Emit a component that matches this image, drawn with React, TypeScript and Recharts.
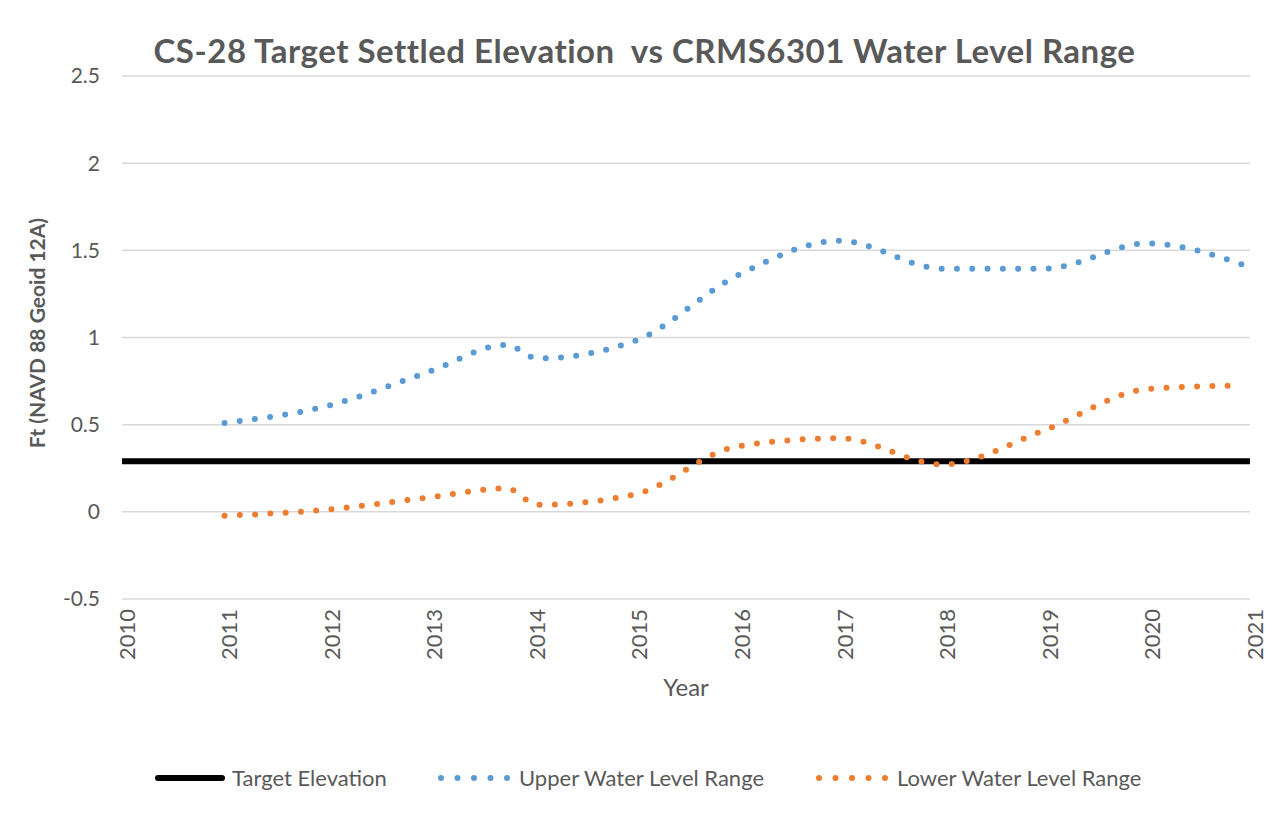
import React from "react";
import { LineChart, Line, XAxis, YAxis, CartesianGrid, Label } from "recharts";

const titleText = "CS-28 Target Settled Elevation  vs CRMS6301 Water Level Range";
const yAxisTitle = "Ft (NAVD 88 Geoid 12A)";
const xAxisTitle = "Year";

const xTicks = [2010, 2011, 2012, 2013, 2014, 2015, 2016, 2017, 2018, 2019, 2020, 2021];
const yTicks = [-0.5, 0, 0.5, 1, 1.5, 2, 2.5];

const targetYears = [2010, 2021];
const targetValues = [0.29, 0.29];

const rangeYears = [2011, 2012, 2013, 2013.75, 2014.05, 2015, 2016, 2017, 2018, 2019, 2020, 2020.92];
const upperValues = [0.51, 0.607, 0.805, 0.958, 0.88, 0.98, 1.355, 1.555, 1.395, 1.395, 1.54, 1.42];
const lowerValues = [-0.023, 0.013, 0.083, 0.135, 0.04, 0.1, 0.375, 0.422, 0.272, 0.47, 0.704, 0.725];

const seriesNames = ["Target Elevation", "Upper Water Level Range", "Lower Water Level Range"];
const colors = ["#000000", "#5b9bd5", "#ed7d31"];

const toRows = (xs: number[], vs: number[]) => xs.map((x, i) => ({ x, v: vs[i] }));
const targetData = toRows(targetYears, targetValues);
const upperData = toRows(rangeYears, upperValues);
const lowerData = toRows(rangeYears, lowerValues);

const FONT = "Lato, 'Open Sans', sans-serif";
const GRAY = "#595959";

const XTick = (props: any) => {
  const { x, y, payload } = props;
  return (
    <g transform={`translate(${x + 5},${y + 2}) rotate(-90)`}>
      <text x={0} y={0} dy="0.35em" textAnchor="end" fill={GRAY} fontSize={22} fontFamily={FONT}>
        {payload.value}
      </text>
    </g>
  );
};

const YTick = (props: any) => {
  const { x, y, payload } = props;
  return (
    <text x={x - 14} y={y} dy="0.35em" textAnchor="end" fill={GRAY} fontSize={21} fontFamily={FONT}>
      {payload.value}
    </text>
  );
};

const LegendItem = ({ i, left, textLeft }: { i: number; left: number; textLeft: number }) => (
  <>
    <svg style={{ position: "absolute", left, top: 760, overflow: "visible" }} width={72} height={20}>
      {i === 0 ? (
        <line x1={3} y1={10} x2={67} y2={10} stroke={colors[i]} strokeWidth={6} strokeLinecap="round" />
      ) : (
        <line x1={3} y1={10} x2={70} y2={10} stroke={colors[i]} strokeWidth={6} strokeLinecap="round" strokeDasharray="0 16.5" />
      )}
    </svg>
    <div
      style={{
        position: "absolute",
        left: textLeft,
        top: 756,
        fontFamily: FONT,
        fontSize: 22,
        color: GRAY,
        lineHeight: "28px",
        whiteSpace: "nowrap",
      }}
    >
      {seriesNames[i]}
    </div>
  </>
);

export default function App() {
  return (
    <div
      style={{
        marginLeft: -2,
        marginTop: -2,
        width: 1275,
        height: 810,
        borderLeft: "2px solid #000",
        borderTop: "2px solid #000",
        position: "relative",
        overflow: "hidden",
        background: "#fff",
      }}
    >
      <div
        style={{
          position: "absolute",
          left: 0,
          width: 1273,
          top: 22,
          textAlign: "center",
          fontFamily: FONT,
          fontWeight: 700,
          fontSize: 33,
          letterSpacing: 0.5,
          color: GRAY,
          lineHeight: "40px",
          whiteSpace: "pre",
        }}
      >
        {titleText}
      </div>
      <div style={{ position: "absolute", left: 0, top: 0 }}>
        <LineChart width={1273} height={808} margin={{ top: 68, right: 31, bottom: 137, left: 34 }}>
          <CartesianGrid vertical={false} stroke="#d9d9d9" strokeWidth={1.5} />
          <XAxis
            type="number"
            dataKey="x"
            domain={[2010, 2021]}
            ticks={xTicks}
            interval={0}
            axisLine={false}
            tickLine={false}
            height={80}
            tick={<XTick />}
            allowDataOverflow
          >
            <Label
              content={() => (
                <text x={678} y={680} dy="0.35em" textAnchor="middle" fill={GRAY} fontSize={24} fontFamily={FONT}>
                  {xAxisTitle}
                </text>
              )}
            />
          </XAxis>
          <YAxis
            type="number"
            domain={[-0.5, 2.5]}
            ticks={yTicks}
            interval={0}
            axisLine={false}
            tickLine={false}
            width={80}
            tick={<YTick />}
            allowDataOverflow
          >
            <Label
              content={() => (
                <text
                  x={30}
                  y={325}
                  dy="0.35em"
                  textAnchor="middle"
                  transform="rotate(-90 30 325)"
                  fill={GRAY}
                  fontSize={21}
                  fontWeight={700}
                  fontFamily={FONT}
                >
                  {yAxisTitle}
                </text>
              )}
            />
          </YAxis>
          <Line
            data={targetData}
            dataKey="v"
            name={seriesNames[0]}
            type="linear"
            stroke={colors[0]}
            strokeWidth={6}
            strokeLinecap="round"
            dot={false}
            activeDot={false}
            isAnimationActive={false}
          />
          <Line
            data={upperData}
            dataKey="v"
            name={seriesNames[1]}
            type="monotone"
            stroke={colors[1]}
            strokeWidth={6}
            strokeLinecap="round"
            strokeDasharray="0 15.3"
            dot={false}
            activeDot={false}
            isAnimationActive={false}
          />
          <Line
            data={lowerData}
            dataKey="v"
            name={seriesNames[2]}
            type="monotone"
            stroke={colors[2]}
            strokeWidth={6}
            strokeLinecap="round"
            strokeDasharray="0 15.3"
            dot={false}
            activeDot={false}
            isAnimationActive={false}
          />
        </LineChart>
      </div>
      <LegendItem i={0} left={147} textLeft={224} />
      <LegendItem i={1} left={430} textLeft={511} />
      <LegendItem i={2} left={808} textLeft={889} />
    </div>
  );
}
